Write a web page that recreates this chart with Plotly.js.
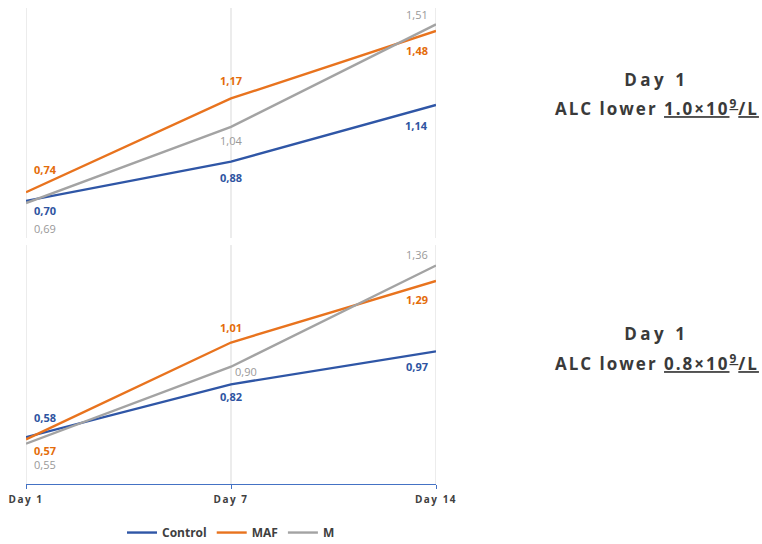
<!DOCTYPE html>
<html>
<head>
<meta charset="utf-8">
<script src="https://cdn.plot.ly/plotly-3.0.1.min.js"></script>
<style>
  html, body { margin: 0; padding: 0; background: #fff; }
  #plot { width: 762px; height: 544px; }
  /* the side titles and the day ticks are letter-spaced in the reference */
  g.annotation[data-index="0"] text,
  g.annotation[data-index="2"] text { letter-spacing: 3.5px; }
  g.annotation[data-index="1"] text,
  g.annotation[data-index="3"] text { letter-spacing: 2px; }
  g.x2tick text { letter-spacing: 1.5px; }
</style>
</head>
<body>
<div id="plot"></div>
<script>
const days = ["Day 1", "Day 7", "Day 14"]
const seriesNames = ["Control", "MAF", "M"]

// ALC lower 1.0 (top panel)
const controlTop = [0.70, 0.88, 1.14]
const mafTop = [0.74, 1.17, 1.48]
const mTop = [0.69, 1.04, 1.51]

// ALC lower 0.8 (bottom panel)
const controlBottom = [0.58, 0.82, 0.97]
const mafBottom = [0.57, 1.01, 1.29]
const mBottom = [0.55, 0.90, 1.36]

const panelTitles = [
  ["Day 1", "ALC lower <u>1.0×10<sup>9</sup>/L</u>"],
  ["Day 1", "ALC lower <u>0.8×10<sup>9</sup>/L</u>"]
]

const lineColors = ["#2F56A6", "#E8731E", "#A3A3A3"]
const labelColors = ["#2E54A1", "#E46C0A", "#999999"]
const labelWeights = ["bold", "bold", "normal"]

// label placement (px shifts), per panel, per series, per point
const labelShift = [
  [
    [[6, -10], [0, -16], [-6, -20]],
    [[6, 23], [0, 18], [-6, -20]],
    [[6, -25], [0, -14], [-6, 10]]
  ],
  [
    [[6, 20], [0, -12], [-6, -15]],
    [[6, -11], [0, 15], [-6, -19]],
    [[6, -21], [2, -5], [-6, 11]]
  ]
]

const panels = [
  { data: [controlTop, mafTop, mTop], xa: "x", ya: "y" },
  { data: [controlBottom, mafBottom, mBottom], xa: "x2", ya: "y2" }
]

const fontFamily = "'Open Sans', 'Noto Sans', sans-serif"
const traces = []
const annotations = []
const shapes = []

// side titles first, so the css above can find them by index
const titleY = [[0.849, 0.79], [0.317, 0.256]]
panelTitles.forEach((lines, p) => {
  lines.forEach((txt, j) => {
    annotations.push({
      x: 1.539,
      y: titleY[p][j],
      xref: "paper",
      yref: "paper",
      text: "<b>" + txt + "</b>",
      showarrow: false,
      xanchor: "center",
      yanchor: "middle",
      font: { family: fontFamily, size: 17, color: "#3A3A3A" }
    })
  })
})

panels.forEach((panel, p) => {
  // vertical grid line at every day, edges included
  days.forEach(d => {
    shapes.push({
      type: "line",
      xref: panel.xa,
      yref: panel.ya + " domain",
      x0: d, x1: d, y0: 0, y1: 1,
      layer: "below",
      line: { color: "#D9D9D9", width: 1 }
    })
  })
  panel.data.forEach((values, s) => {
    traces.push({
      type: "scatter",
      mode: "lines",
      x: days,
      y: values,
      xaxis: panel.xa,
      yaxis: panel.ya,
      name: seriesNames[s],
      legendgroup: seriesNames[s],
      showlegend: p === 1,
      line: { color: lineColors[s], width: 2.4 },
      hoverinfo: "skip"
    })
    values.forEach((v, i) => {
      const shift = labelShift[p][s][i]
      let anchor = i === 0 ? "left" : (i === 2 ? "right" : "center")
      if (p === 1 && s === 2 && i === 1) anchor = "left"
      annotations.push({
        x: days[i],
        y: v,
        xref: panel.xa,
        yref: panel.ya,
        text: v.toFixed(2).replace(".", ","),
        showarrow: false,
        xanchor: anchor,
        yanchor: "middle",
        xshift: shift[0],
        yshift: shift[1],
        font: { family: fontFamily, size: 11, color: labelColors[s], weight: labelWeights[s] }
      })
    })
  })
})

const layout = {
  width: 762,
  height: 544,
  margin: { l: 26, r: 326, t: 8, b: 60, pad: 0, autoexpand: false },
  paper_bgcolor: "#ffffff",
  plot_bgcolor: "#ffffff",
  showlegend: true,
  legend: {
    orientation: "h",
    x: 0.5,
    xanchor: "center",
    y: -0.102,
    yanchor: "middle",
    itemwidth: 30,
    font: { family: fontFamily, size: 12, color: "#404040", weight: "bold" }
  },
  xaxis: {
    type: "category",
    range: [0, 2],
    anchor: "y",
    showticklabels: false,
    showline: false,
    showgrid: false,
    zeroline: false,
    fixedrange: true
  },
  yaxis: {
    domain: [0.5168, 1],
    range: [0.53, 1.585],
    anchor: "x",
    showticklabels: false,
    showgrid: false,
    showline: false,
    zeroline: false,
    fixedrange: true
  },
  xaxis2: {
    type: "category",
    range: [0, 2],
    anchor: "y2",
    showline: true,
    linecolor: "#4472C4",
    linewidth: 1.2,
    ticks: "outside",
    ticklen: 4,
    tickcolor: "#4472C4",
    ticklabelstandoff: 2,
    showgrid: false,
    zeroline: false,
    tickfont: { family: fontFamily, size: 10, color: "#404040", weight: "bold" },
    fixedrange: true
  },
  yaxis2: {
    domain: [0, 0.502],
    range: [0.367, 1.453],
    anchor: "x2",
    showticklabels: false,
    showgrid: false,
    showline: false,
    zeroline: false,
    fixedrange: true
  },
  shapes: shapes,
  annotations: annotations
}

Plotly.newPlot("plot", traces, layout, { displayModeBar: false, staticPlot: true })
</script>
</body>
</html>
